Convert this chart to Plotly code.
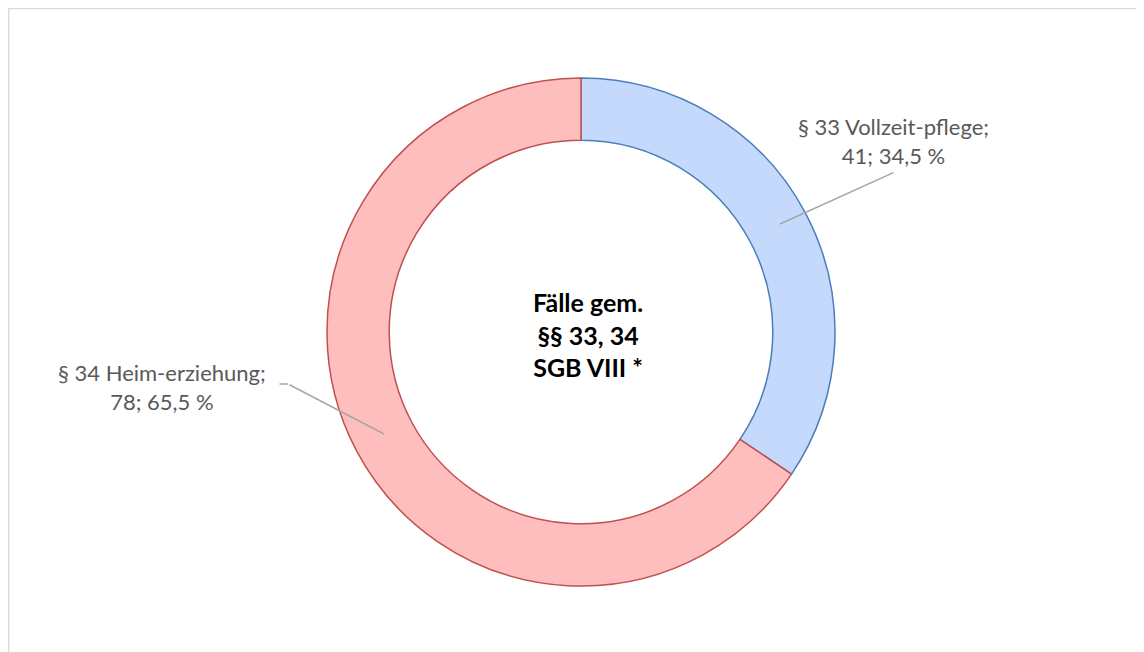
import plotly.graph_objects as go

# Data
LABELS = ['§ 33 Vollzeit-pflege', '§ 34 Heim-erziehung']
CASES = [41, 78]
PERCENT_TEXT = ['34,5 %', '65,5 %']
CENTER_TEXT = 'Fälle gem.<br>§§ 33, 34<br>SGB VIII *'

W, H = 1144, 652
OFF = 8  # page body margin
CX, CY, R = 581 - OFF, 332 - OFF, 254

fill_colors = ['#c4d9fc', '#ffbebe']
line_colors = ['#4a7ebb', '#c0504d']

fig = go.Figure()
fig.add_trace(go.Pie(
    labels=LABELS,
    values=CASES,
    hole=0.755,
    sort=False,
    direction='clockwise',
    rotation=0,
    textinfo='none',
    hoverinfo='label+value+percent',
    marker=dict(colors=fill_colors, line=dict(color=line_colors, width=1.5)),
    domain=dict(x=[(CX - R) / W, (CX + R) / W],
                y=[(H - CY - R) / H, (H - CY + R) / H]),
    showlegend=False,
))

label_font = dict(family='Lato, Carlito, Liberation Sans', size=22, color='#595959')


def px(x, y):
    return (x - OFF) / W, 1 - (y - OFF) / H


def leader(x0, y0, x1, y1):
    # line from reference pixel (x1, y1) to (x0, y0)
    x, y = px(x0, y0)
    return dict(x=x, y=y, ax=x1 - x0, ay=y1 - y0, xref='paper', yref='paper',
                axref='pixel', ayref='pixel', showarrow=True, arrowhead=0, arrowwidth=1.5,
                arrowcolor='#a6a6a6', text='', standoff=0, startstandoff=0)


def label(text, x, y, font):
    xx, yy = px(x, y)
    return dict(text=text, x=xx, y=yy, xref='paper', yref='paper', showarrow=False,
                xanchor='center', yanchor='middle', font=font, align='center')


annotations = [
    label('<b>' + CENTER_TEXT + '</b>', 588, 334,
          dict(family='Lato, Carlito, Liberation Sans', size=25, color='#000000')),
    label(f'{LABELS[0]};<br>{CASES[0]}; {PERCENT_TEXT[0]}', 893, 141, label_font),
    label(f'{LABELS[1]};<br>{CASES[1]}; {PERCENT_TEXT[1]}', 162, 387, label_font),
    leader(780, 224, 895, 172),
    leader(384, 434, 288, 384),
    leader(288, 384, 278, 384),
]

fig.update_layout(
    width=W, height=H,
    margin=dict(l=0, r=0, t=0, b=0),
    paper_bgcolor='white',
    plot_bgcolor='white',
    annotations=annotations,
    shapes=[dict(type='rect', xref='paper', yref='paper', x0=0.6 / W, x1=1.01,
                 y0=-0.01, y1=1 - 0.6 / H, line=dict(color='#d9d9d9', width=1.5))],
)

fig.write_html('out.html')
